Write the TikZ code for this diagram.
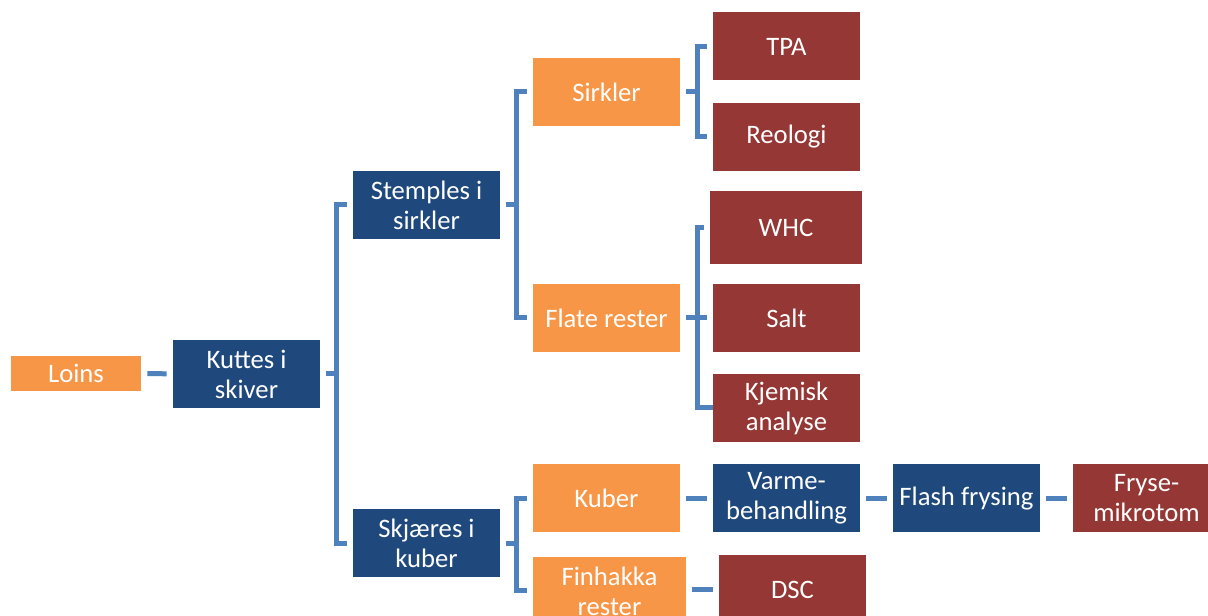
\documentclass[tikz,border=0pt]{standalone}
\usepackage{fontspec}
\setmainfont{Carlito}
\definecolor{stepOrange}{HTML}{F79646}
\definecolor{stepNavy}{HTML}{1F497D}
\definecolor{stepRed}{HTML}{953735}
\definecolor{stepLine}{HTML}{4F81BD}
\tikzset{boks/.style={minimum width=110.25pt,minimum height=51pt,inner sep=0pt,
  align=center,text=white,font=\fontsize{20}{22.5}\selectfont}}
\tikzset{orangebox/.style={boks,fill=stepOrange}}
\tikzset{navybox/.style={boks,fill=stepNavy}}
\tikzset{redbox/.style={boks,fill=stepRed}}
\tikzset{link/.style={line width=3.75pt,color=stepLine}}
\tikzset{tie/.style={link,shorten <=4.5pt,shorten >=4.5pt}}

\begin{document}
\begin{tikzpicture}[x=0.75pt,y=-0.75pt]
	\clip (0,0) rectangle (1208,616);
	% first column
	\node [orangebox,minimum width=97.5pt,minimum height=26.25pt] (loins) at (76,373.5) {Loins};
	\node [navybox] (kutt) at (246.5,374) {Kuttes i\\skiver};
	% second column
	\node [navybox] (stempl) at (426.5,205) {Stemples i\\sirkler};
	\node [navybox] (skjaer) at (426.5,543.5) {Skjæres i\\kuber};
	% third column
	\node [orangebox] (sirkl) at (606.5,92) {Sirkler};
	\node [orangebox] (flate) at (606.5,318) {Flate rester};
	\node [orangebox] (kuber) at (606.5,498.5) {Kuber};
	\node [orangebox,minimum width=114.75pt] (finhakk) at (609.5,591) {Finhakka\\rester};
	% analyses
	\node [redbox] (tpa) at (786.5,46.5) {TPA};
	\node [redbox] (reol) at (786.5,137) {Reologi};
	\node [redbox,minimum width=114pt,minimum height=54.75pt] (whc) at (786,227.5) {WHC};
	\node [redbox] (salt) at (786.5,318) {Salt};
	\node [redbox] (kjem) at (786.5,408) {Kjemisk\\analyse};
	\node [navybox] (varme) at (786.5,498.5) {Varme-\\behandling};
	\node [navybox] (flash) at (966.5,498.5) {Flash frysing};
	\node [redbox] (fryse) at (1146.5,498.5) {Fryse-\\mikrotom};
	\node [redbox] (dsc) at (792.5,589.5) {DSC};

	% bracket spines
	\coordinate (b1) at ([xshift=12pt]kutt.east);
	\coordinate (b2) at ([xshift=12pt]stempl.east);
	\coordinate (b3) at ([xshift=12.75pt]sirkl.east);
	\coordinate (b4) at ([xshift=12.75pt]flate.east);
	\coordinate (b5) at ([xshift=12pt]skjaer.east);

	\draw [tie] (loins) -- (kutt);
	\draw [link,shorten <=4.5pt] (kutt.east) -- (b1);
	\draw [tie] (stempl.west) -| (b1) |- (skjaer.west);
	\draw [link,shorten <=4.5pt] (stempl.east) -- (b2);
	\draw [tie] (sirkl.west) -| (b2) |- (flate.west);
	\draw [link,shorten <=4.5pt] (sirkl.east) -- (b3);
	\draw [tie] (tpa.west) -| (b3) |- (reol.west);
	\draw [tie,shorten >=0pt] (whc.west) -| (b4) |- (kjem.west);
	\draw [tie] (flate.east) -- (salt.west);
	\draw [link,shorten <=4.5pt] (skjaer.east) -- (b5);
	\draw [tie] (kuber.west) -| (b5) |- (finhakk.west);
	\draw [tie] (kuber) -- (varme);
	\draw [tie] (varme) -- (flash);
	\draw [tie] (flash) -- (fryse);
	\draw [tie] (finhakk.east |- dsc) -- (dsc.west);
\end{tikzpicture}
\end{document}
